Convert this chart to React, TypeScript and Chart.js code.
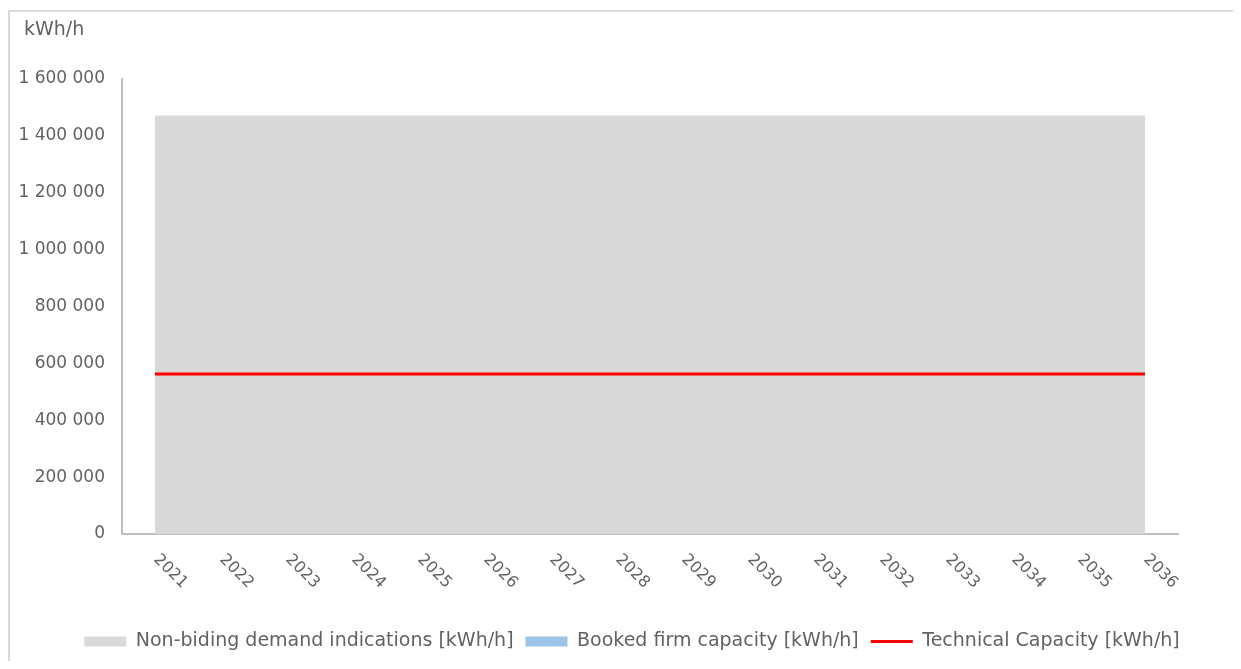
import React, { useEffect, useRef } from "react";
import { Chart, registerables } from "chart.js";

Chart.register(...registerables);

const years = ["2021", "2022", "2023", "2024", "2025", "2026", "2027", "2028", "2029", "2030", "2031", "2032", "2033", "2034", "2035", "2036"];
const nonBindingDemand = [1470000, 1470000, 1470000, 1470000, 1470000, 1470000, 1470000, 1470000, 1470000, 1470000, 1470000, 1470000, 1470000, 1470000, 1470000, 1470000];
const bookedFirmCapacity = [0, 0, 0, 0, 0, 0, 0, 0, 0, 0, 0, 0, 0, 0, 0, 0];
const technicalCapacity = [563000, 563000, 563000, 563000, 563000, 563000, 563000, 563000, 563000, 563000, 563000, 563000, 563000, 563000, 563000, 563000];
const seriesNames = ["Non-biding demand indications [kWh/h]", "Booked firm capacity [kWh/h]", "Technical Capacity [kWh/h]"];
const unitLabel = "kWh/h";

const FONT = "'DejaVu Sans', sans-serif";
const TEXT = "#626262";
const GRAY = "#d9d9d9";
const BLUE = "#9dc3e6";
const RED = "#ff0000";
const AXIS = "#bfbfbf";

const fmt = (v: number) => String(v).replace(/\B(?=(\d{3})+(?!\d))/g, " ");

const rotatedXLabels = {
  id: "rotatedXLabels",
  afterLayout(chart: any) {
    if (chart.legend) chart.legend.left += 13;
  },
  afterDraw(chart: any) {
    const xs = chart.scales.x;
    const ctx = chart.ctx;
    ctx.save();
    ctx.fillStyle = TEXT;
    ctx.font = `16px ${FONT}`;
    ctx.textAlign = "left";
    ctx.textBaseline = "middle";
    years.forEach((label, i) => {
      const x = xs.getPixelForValue(i);
      ctx.save();
      ctx.translate(x + 1, xs.top + 23);
      ctx.rotate(Math.PI / 4);
      ctx.fillText(label, 0, 0);
      ctx.restore();
    });
    ctx.font = `19px ${FONT}`;
    ctx.textBaseline = "middle";
    ctx.fillText(unitLabel, 14, 18);
    ctx.restore();
  },
};

export default function App() {
  const ref = useRef<HTMLCanvasElement>(null);
  useEffect(() => {
    if (!ref.current) return;
    const colors = [GRAY, BLUE, RED];
    const chart = new Chart(ref.current, {
      type: "line",
      data: {
        labels: years,
        datasets: [
          {
            label: seriesNames[0],
            data: nonBindingDemand,
            fill: "origin",
            backgroundColor: GRAY,
            borderColor: GRAY,
            borderWidth: 1,
            pointRadius: 0,
            pointHoverRadius: 0,
            tension: 0,
            order: 2,
          },
          {
            label: seriesNames[1],
            data: bookedFirmCapacity,
            fill: "origin",
            backgroundColor: BLUE,
            borderColor: BLUE,
            borderWidth: 0,
            pointRadius: 0,
            pointHoverRadius: 0,
            tension: 0,
            order: 1,
          },
          {
            label: seriesNames[2],
            data: technicalCapacity,
            fill: false,
            borderColor: RED,
            backgroundColor: RED,
            borderWidth: 3,
            pointRadius: 0,
            pointHoverRadius: 0,
            tension: 0,
            order: 0,
          },
        ],
      },
      options: {
        animation: false,
        responsive: true,
        maintainAspectRatio: false,
        layout: { padding: { left: 8, right: 0, top: 67, bottom: 0 } },
        plugins: {
          title: { display: false },
          legend: {
            position: "bottom",
            labels: {
              usePointStyle: true,
              pointStyleWidth: 42,
              boxHeight: 10,
              padding: 12,
              color: TEXT,
              font: { family: FONT, size: 19 },
              generateLabels(c: any) {
                const items = (Chart.defaults.plugins.legend.labels as any).generateLabels(c);
                items.sort((a: any, b: any) => a.datasetIndex - b.datasetIndex);
                return items.map((it: any) => {
                  const i = it.datasetIndex;
                  return i === 2
                    ? { ...it, pointStyle: "line", strokeStyle: RED, lineWidth: 3, lineCap: "butt" }
                    : { ...it, pointStyle: "rect", fillStyle: colors[i], strokeStyle: colors[i], lineWidth: 0 };
                });
              },
            },
          },
          tooltip: { enabled: false },
        },
        scales: {
          x: {
            offset: true,
            grid: { display: false, drawTicks: false },
            border: { display: true, color: AXIS, width: 2 },
            ticks: { display: false },
            afterFit: (s: any) => {
              s.height = 86;
            },
          },
          y: {
            min: 0,
            max: 1600000,
            grid: { display: false, drawTicks: false },
            border: { display: true, color: AXIS, width: 2 },
            ticks: {
              stepSize: 200000,
              padding: 17,
              color: TEXT,
              font: { family: FONT, size: 17 },
              callback: (v: any) => fmt(Number(v)),
            },
            afterFit: (s: any) => {
              s.width = 104;
            },
          },
          yR: {
            type: "linear",
            position: "right",
            display: true,
            grid: { display: false, drawTicks: false },
            border: { display: false },
            ticks: { display: false },
            afterFit: (s: any) => {
              s.width = 55;
            },
          },
        },
      } as any,
      plugins: [rotatedXLabels],
    });
    return () => chart.destroy();
  }, []);

  return (
    <div
      style={{
        marginTop: 2,
        borderTop: `2px solid ${GRAY}`,
        borderLeft: `2px solid ${GRAY}`,
        width: 1223,
        height: 649,
        position: "relative",
      }}
    >
      <canvas ref={ref} />
    </div>
  );
}
